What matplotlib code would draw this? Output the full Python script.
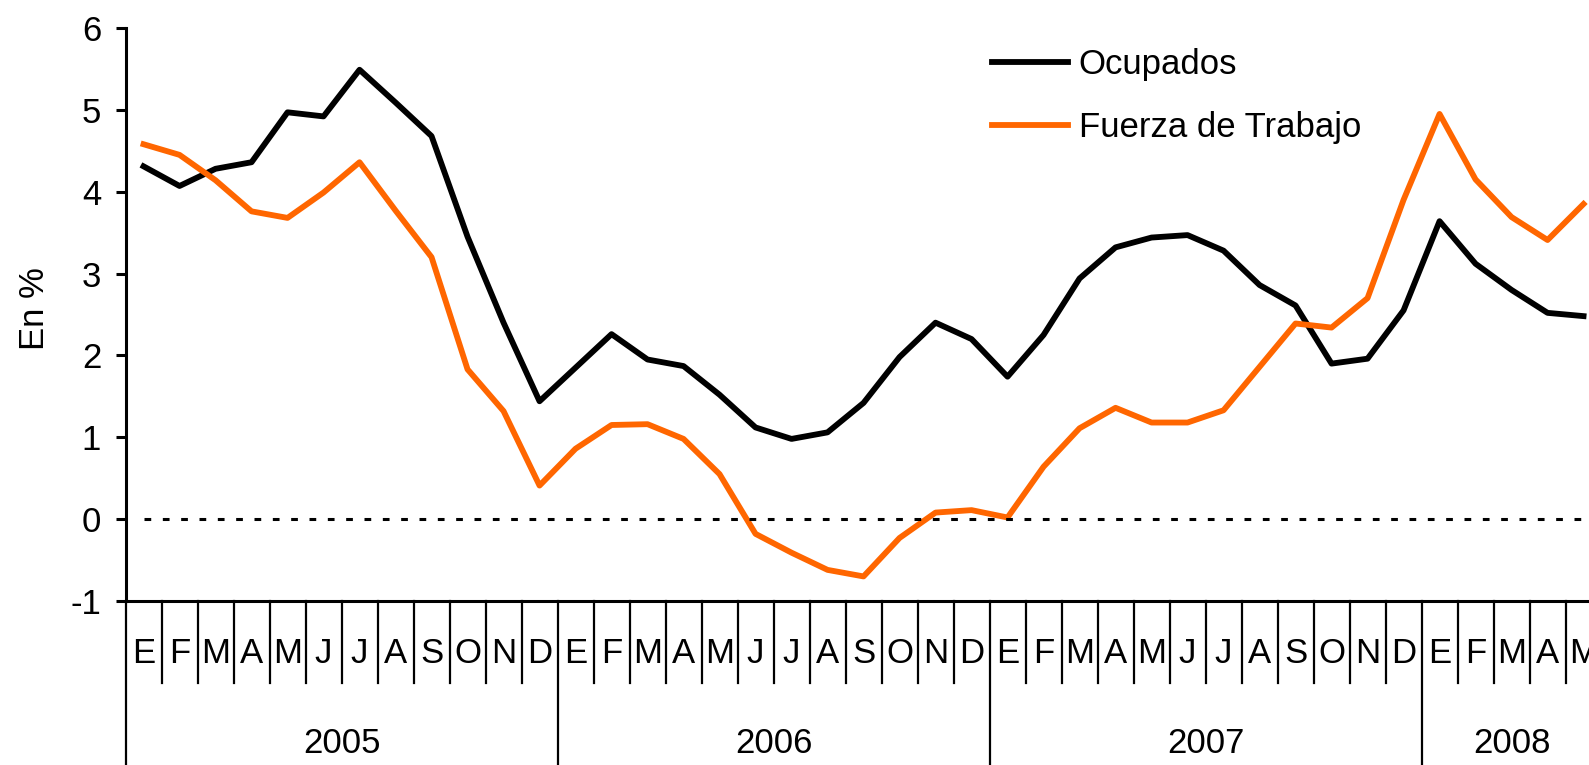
import matplotlib
matplotlib.use("Agg")
import matplotlib.pyplot as plt
import matplotlib.transforms as mtransforms

plt.rcParams['font.family'] = ['Liberation Sans', 'DejaVu Sans']
plt.rcParams['axes.unicode_minus'] = False

# monthly series, Jan 2005 .. May 2008 (year-on-year change, %)
month_letters = ["E", "F", "M", "A", "M", "J", "J", "A", "S", "O", "N", "D"]
years = ["2005", "2006", "2007", "2008"]
n_months = 41

ocupados = [4.31, 4.07, 4.28, 4.36, 4.97, 4.92, 5.49, 5.09, 4.68, 3.45, 2.40, 1.44,
            1.85, 2.26, 1.95, 1.87, 1.52, 1.12, 0.98, 1.06, 1.42, 1.98, 2.40, 2.20,
            1.74, 2.25, 2.94, 3.32, 3.44, 3.47, 3.28, 2.86, 2.61, 1.90, 1.96, 2.55,
            3.64, 3.12, 2.80, 2.52, 2.48]
fuerza = [4.58, 4.45, 4.14, 3.76, 3.68, 3.99, 4.36, 3.77, 3.20, 1.83, 1.32, 0.41,
          0.86, 1.15, 1.16, 0.98, 0.55, -0.18, -0.41, -0.62, -0.70, -0.23, 0.08, 0.11,
          0.02, 0.64, 1.11, 1.36, 1.18, 1.18, 1.33, 1.86, 2.39, 2.34, 2.70, 3.90,
          4.95, 4.15, 3.69, 3.41, 3.85]

x = [i + 0.5 for i in range(n_months)]

fig = plt.figure(figsize=(15.89, 7.65), dpi=100)
ax = fig.add_axes([0.0790, 0.2144, 0.9289, 0.7490])

ax.plot(x, ocupados, color="black", lw=4.2, label="Ocupados")
ax.plot(x, fuerza, color="#FF6600", lw=4.2, label="Fuerza de Trabajo")
ax.hlines(0, x[0], x[-1], colors="black", lw=2.2, linestyles=(0, (2.2, 3.8)))

ax.set_xlim(0, n_months)
ax.set_ylim(-1, 6)
ax.set_yticks(range(-1, 7))
ax.set_xticks([])
ax.spines["top"].set_visible(False)
ax.spines["right"].set_visible(False)
ax.spines["left"].set_linewidth(2.2)
ax.spines["bottom"].set_linewidth(2.2)
ax.tick_params(axis="y", direction="out", length=7.5, width=2.2, pad=10, labelsize=25)
ax.set_ylabel("En %", fontsize=25)
ax.yaxis.set_label_coords(-0.0505, 0.51)

# category axis: month cells and year groups below the plot
trans = mtransforms.blended_transform_factory(ax.transData, ax.transAxes)
for i in range(n_months + 1):
    if i % 12 == 0:
        ax.plot([i, i], [0, -0.29], transform=trans, color="black", lw=1.6, clip_on=False)
    else:
        ax.plot([i, i], [0, -0.143], transform=trans, color="black", lw=1.6, clip_on=False)
for i in range(n_months):
    ax.text(i + 0.5, -0.091, month_letters[i % 12], transform=trans, ha="center", va="center",
            fontsize=25, clip_on=False)
for k, yr in enumerate(years):
    start = 12 * k
    end = min(12 * (k + 1), n_months)
    ax.text((start + end) / 2, -0.248, yr, transform=trans, ha="center", va="center",
            fontsize=25, clip_on=False)

ax.legend(loc="upper left", bbox_to_anchor=(992 / 1589, 0.937), bbox_transform=fig.transFigure,
          frameon=False, fontsize=25, handlelength=2.2, handletextpad=0.3,
          labelspacing=0.85, borderpad=0, borderaxespad=0)

fig.savefig("out.png", dpi=100)
